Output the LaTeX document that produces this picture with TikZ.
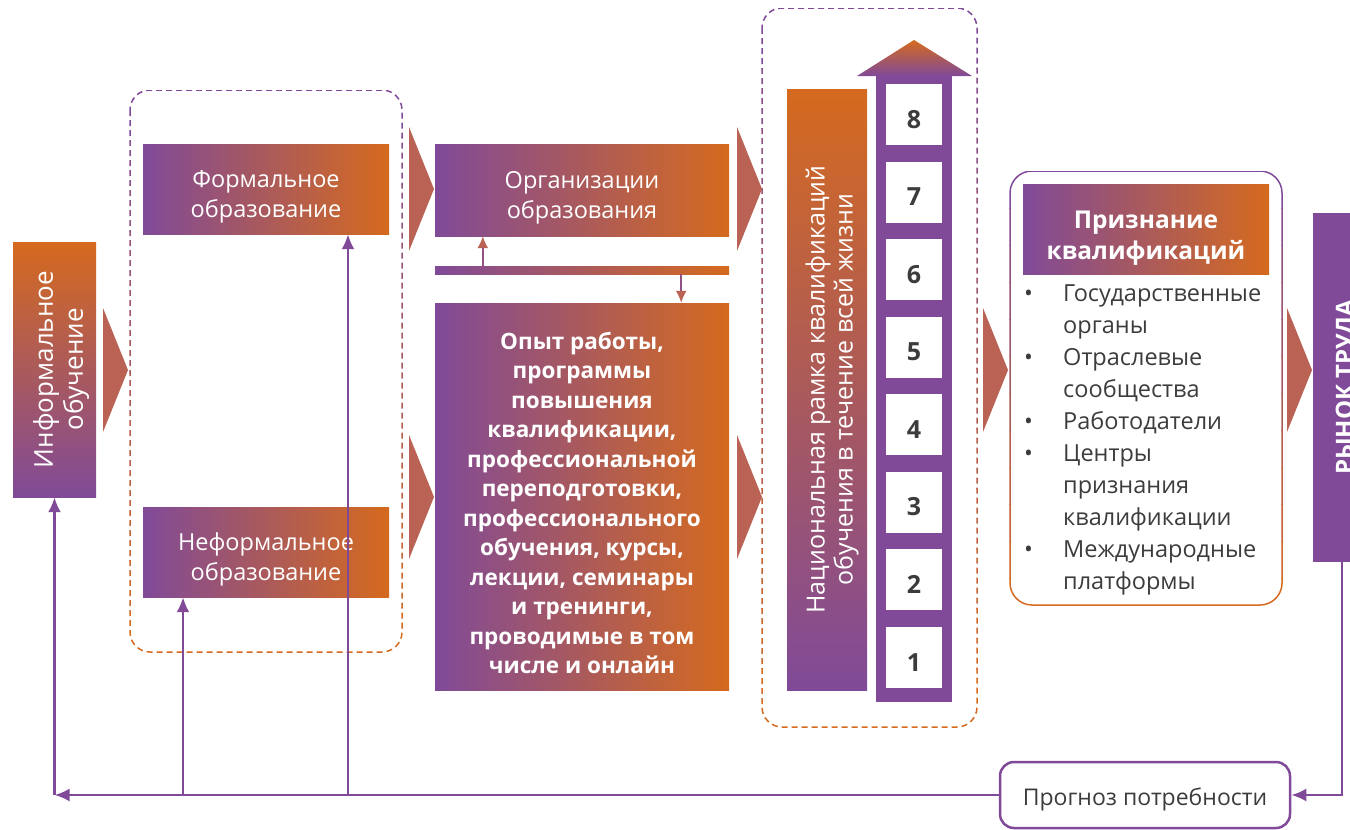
\documentclass[tikz,border=0pt]{standalone}
\usepackage{fontspec}
\setmainfont{Open Sans}
\usetikzlibrary{arrows.meta}

\definecolor{purp}{RGB}{128,74,152}
\definecolor{orng}{RGB}{213,106,30}
\definecolor{chevc}{RGB}{186,98,84}
\definecolor{txtc}{RGB}{60,60,60}

% extra height on a first line, to set the text a little lower in its box
\newcommand{\boxlift}[1][32pt]{\rule{0pt}{#1}}

\tikzset{
  hbox/.style={left color=purp, right color=orng, text=white, align=center, inner sep=0pt, font=\fontsize{23.5}{30}\selectfont},
  vbox/.style={rotate=90, top color=orng, bottom color=purp, text=white, align=center, inner sep=0pt, font=\fontsize{25}{28}\selectfont},
  chev/.style={fill=chevc},
  flow/.style={draw=purp, line width=2.5pt, -{Latex[length=15pt,width=13pt]}},
  tick/.style={draw=purp!70!chevc, line width=1.8pt, -{Latex[length=12pt,width=11pt,color=chevc]}},
  lvl/.style={fill=white, minimum width=56pt, minimum height=61pt, inner sep=0pt, text height=27pt, text depth=0pt, text=txtc, font=\fontsize{25}{28}\selectfont\bfseries},
  grp/.style={line width=1.5pt, dash pattern=on 6pt off 4pt, rounded corners=20pt},
}

\begin{document}
\begin{tikzpicture}[x=1pt, y=-1pt]
\clip (0,0) rectangle (1350,830);

% dashed frames, purple on top fading to orange
\foreach \k in {0,...,11}{
  \pgfmathtruncatemacro\p{100*\k/11}
  \begin{scope}
    \clip (120,{90+47*\k}) rectangle (415,{90+47*(\k+1)});
    \draw[grp, orng!\p!purp] (130,90) rectangle (402,652);
  \end{scope}
  \begin{scope}
    \clip (750,{8+60*\k}) rectangle (990,{8+60*(\k+1)});
    \draw[grp, orng!\p!purp] (762,8) rectangle (977,727);
  \end{scope}
  \begin{scope}
    \clip (1000,{171+37*\k}) rectangle (1295,{171+37*(\k+1)});
    \draw[line width=1.5pt, rounded corners=22pt, orng!\p!purp] (1010,171) rectangle (1282,605);
  \end{scope}
}

% chevrons
\foreach \x/\y in {103/370, 409/189, 409/497, 737/189, 737/497, 983/370, 1287/370}
  \fill[chev] (\x,{\y-62}) -- ({\x+25},\y) -- (\x,{\y+62}) -- cycle;

% left column
\node[vbox, minimum width=255pt, minimum height=83pt, font=\fontsize{26}{30}\selectfont] (inf) at (54.5,369.5) {\boxlift[33pt]Информальное\\обучение};
\node[hbox, minimum width=246pt, minimum height=90pt] (form) at (266,189) {\boxlift Формальное\\образование};
\node[hbox, minimum width=246pt, minimum height=90pt] (nonf) at (266,552) {\boxlift Неформальное\\образование};

% middle column
\node[hbox, minimum width=294pt, minimum height=92pt] (org) at (582,190) {\boxlift Организации\\образования};
\node[left color=purp, right color=orng, inner sep=0pt, minimum width=294pt, minimum height=8pt] (bar) at (582,270) {};
\node[hbox, minimum width=294pt, minimum height=387pt, font=\fontsize{22.5}{29.5}\selectfont\bfseries] (exp) at (582,496.5)
  {\boxlift[30pt]Опыт работы,\\программы\\повышения\\квалификации,\\профессиональной\\переподготовки,\\профессионального\\обучения, курсы,\\лекции, семинары\\и тренинги,\\проводимые в том\\числе и онлайн};
\draw[tick] ([xshift=48pt]bar.north west) -- ([xshift=48pt]org.south west);
\draw[tick] ([xshift=-48pt]bar.south east) -- ([xshift=-48pt]exp.north east);

% qualification framework and ladder
\node[vbox, minimum width=601pt, minimum height=80pt] (nrk) at (827,389.5) {\boxlift[29pt]Национальная рамка квалификаций\\обучения в течение всей жизни};
\fill[purp] (876,76) rectangle (952,702);
\shade[top color=orng, bottom color=purp] (857,76) -- (914,40) -- (972,76) -- cycle;
\foreach \n in {1,...,8}
  \node[lvl] (lv\n) at (914,{657.5-77.57*(\n-1)}) {\n};

% recognition
\node[hbox, minimum width=246pt, minimum height=90pt, font=\fontsize{24.5}{31}\selectfont\bfseries] (rec) at (1146,229) {\boxlift[36pt]Признание\\квалификаций};
\node[anchor=north west, inner sep=0pt, text=txtc, font=\fontsize{23.5}{32}\selectfont] (reclist) at (1024,279)
  {\begin{tabular}{@{}p{39pt}@{}l@{}}
   \textbullet & Государственные\\
               & органы\\
   \textbullet & Отраслевые\\
               & сообщества\\
   \textbullet & Работодатели\\
   \textbullet & Центры\\
               & признания\\
               & квалификации\\
   \textbullet & Международные\\
               & платформы
   \end{tabular}};

% labour market and forecast
\node[rotate=90, fill=purp, text=white, inner sep=0pt, minimum width=349pt, minimum height=68pt, font=\fontsize{24}{28}\selectfont\bfseries] (mkt) at (1347,387.5) {РЫНОК ТРУДА};
\node[draw=purp, line width=2.5pt, rounded corners=14pt, fill=white, minimum width=290pt, minimum height=66pt, text=txtc, font=\fontsize{23}{26}\selectfont] (fc) at (1145,795) {\boxlift[26pt]Прогноз потребности};

% feedback lines
\coordinate (j0) at (inf.west |- fc.west);
\coordinate (j1) at (183,795);
\coordinate (j2) at (348,795);
\draw[flow] ([xshift=-5pt]mkt.west) |- (fc.east);
\draw[flow] (fc.west) -- (j0);
\draw[flow] (j0) -- (inf.west);
\draw[flow] (j1) -- (j1 |- nonf.south);
\draw[flow] (j2) -- (j2 |- form.south);
\end{tikzpicture}
\end{document}
